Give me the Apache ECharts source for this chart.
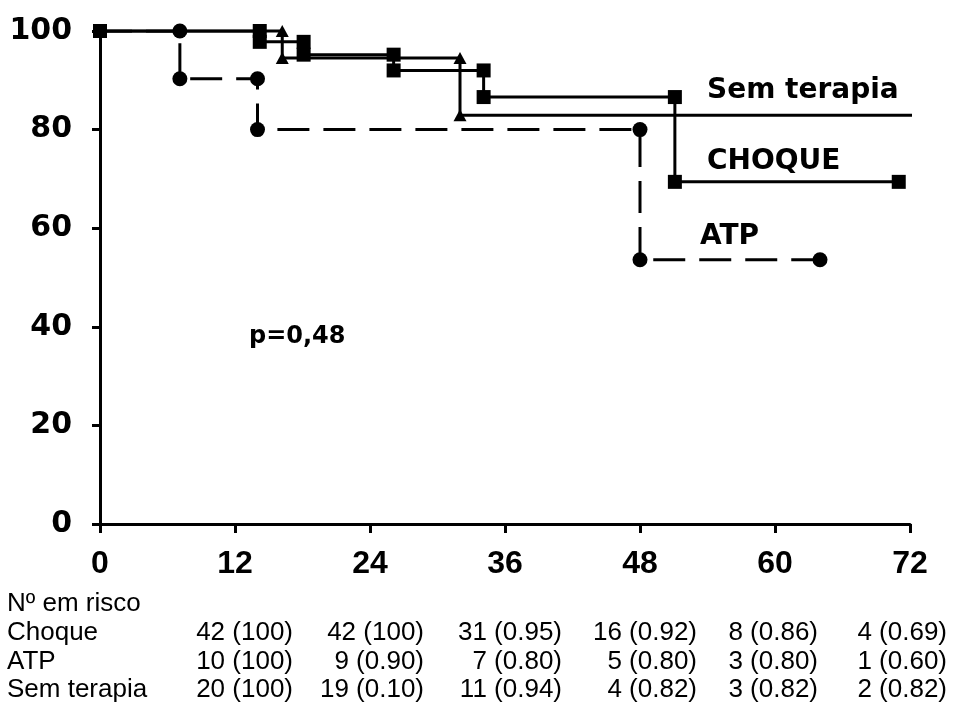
<!DOCTYPE html>
<html>
<head>
<meta charset="utf-8">
<script src="https://cdn.jsdelivr.net/npm/echarts@6/dist/echarts.min.js"></script>
<style>
html,body{margin:0;padding:0;background:#fff;}
#chart{width:954px;height:708px;}
</style>
</head>
<body>
<div id="chart"></div>
<script>
// ---- data (months, survival %) ----
var choqueX = [0, 14.2, 14.2, 18.1, 18.1, 26.1, 26.1, 34.1, 34.1, 51.1, 51.1, 71.0];
var choqueY = [100, 100, 97.8, 97.8, 95.2, 95.2, 92.0, 92.0, 86.6, 86.6, 69.4, 69.4];

var atpX = [0, 7.1, 7.1, 14.0, 14.0, 48.0, 48.0, 64.0];
var atpY = [100, 100, 90.3, 90.3, 80.0, 80.0, 53.6, 53.6];

var semX = [0, 16.2, 16.2, 32.0, 32.0, 72.3];
var semY = [100, 100, 94.5, 94.5, 82.9, 82.9];
var semMarked = [false, true, true, true, true, false];
var atpMarked = [false, true, true, true, true, true, true, true];

var xTicks = [0, 12, 24, 36, 48, 60, 72];
var yTicks = [0, 20, 40, 60, 80, 100];

var riskTitle = 'Nº em risco';
var riskGroups = ['Choque', 'ATP', 'Sem terapia'];
var riskChoque = ['42 (100)', '42 (100)', '31 (0.95)', '16 (0.92)', '8 (0.86)', '4 (0.69)'];
var riskATP = ['10 (100)', '9 (0.90)', '7 (0.80)', '5 (0.80)', '3 (0.80)', '1 (0.60)'];
var riskSem = ['20 (100)', '19 (0.10)', '11 (0.94)', '4 (0.82)', '3 (0.82)', '2 (0.82)'];

var curveLabels = ['Sem terapia', 'CHOQUE', 'ATP'];
var pValue = 'p=0,48';

// ---- layout ----
function pts(xs, ys, marked) {
  return xs.map(function (x, i) {
    var item = { value: [x, ys[i]] };
    if (marked && !marked[i]) item.symbol = 'none';
    return item;
  });
}
var colRight = [293, 424, 562, 697, 818, 947];
var rowBase = [613, 642, 671, 699];
var tableFont = '26px "Liberation Sans", Arial, sans-serif';
var boldFont = 'bold 28px "DejaVu Sans", sans-serif';

var graphics = [];
function addText(txt, x, baseline, font, align, fs) {
  graphics.push({
    type: 'text', silent: true,
    style: {
      text: txt, x: x, y: baseline - 0.35 * fs,
      font: font, fill: '#000',
      textAlign: align, align: align,
      textVerticalAlign: 'middle', verticalAlign: 'middle'
    }
  });
}
addText(riskTitle, 7, rowBase[0], tableFont, 'left', 26);
var riskRows = [riskChoque, riskATP, riskSem];
riskGroups.forEach(function (g, r) {
  addText(g, 7, rowBase[r + 1], tableFont, 'left', 26);
  riskRows[r].forEach(function (t, c) {
    addText(t, colRight[c], rowBase[r + 1], tableFont, 'right', 26);
  });
});
addText(curveLabels[0], 707, 101, boldFont, 'left', 28);
addText(curveLabels[1], 707, 172, boldFont, 'left', 28);
addText(curveLabels[2], 700, 247, boldFont, 'left', 28);
addText(pValue, 249, 345, 'bold 24px "DejaVu Sans", sans-serif', 'left', 24);

var chart = echarts.init(document.getElementById('chart'), null, { renderer: 'canvas' });
chart.setOption({
  animation: false,
  backgroundColor: '#fff',
  grid: { left: 100, right: 44, top: 31, bottom: 184, containLabel: false },
  xAxis: {
    type: 'value', min: 0, max: 72, interval: 12,
    axisLine: { show: true, onZero: false, lineStyle: { color: '#000', width: 3 } },
    axisTick: { show: true, length: 9, lineStyle: { color: '#000', width: 3 } },
    splitLine: { show: false },
    axisLabel: {
      color: '#000', fontSize: 32, fontWeight: 'bold',
      fontFamily: '"Liberation Sans", Arial, sans-serif', margin: 24,
      formatter: function (v) { return xTicks.indexOf(v) >= 0 ? String(v) : ''; }
    }
  },
  yAxis: {
    type: 'value', min: 0, max: 100, interval: 20,
    axisLine: { show: true, onZero: false, lineStyle: { color: '#000', width: 3 } },
    axisTick: { show: true, length: 8, lineStyle: { color: '#000', width: 3 } },
    splitLine: { show: false },
    axisLabel: {
      color: '#000', fontSize: 30, fontWeight: 'bold',
      fontFamily: '"DejaVu Sans", sans-serif', margin: 28,
      formatter: function (v) { return yTicks.indexOf(v) >= 0 ? String(v) : ''; }
    }
  },
  series: [
    {
      name: 'Sem terapia', type: 'line', clip: false,
      data: pts(semX, semY, semMarked),
      symbol: 'triangle', symbolSize: [13, 12], showAllSymbol: true,
      itemStyle: { color: '#000' },
      lineStyle: { color: '#000', width: 3 }, z: 2
    },
    {
      name: 'ATP', type: 'line',
      data: pts(atpX, atpY, atpMarked),
      symbol: 'circle', symbolSize: 15, showAllSymbol: true,
      itemStyle: { color: '#000' },
      lineStyle: { color: '#000', width: 3, type: [32, 14] }, z: 3
    },
    {
      name: 'Choque', type: 'line',
      data: pts(choqueX, choqueY, null),
      symbol: 'rect', symbolSize: 14, showAllSymbol: true,
      itemStyle: { color: '#000' },
      lineStyle: { color: '#000', width: 3 }, z: 4
    }
  ],
  graphic: graphics
});
</script>
</body>
</html>
